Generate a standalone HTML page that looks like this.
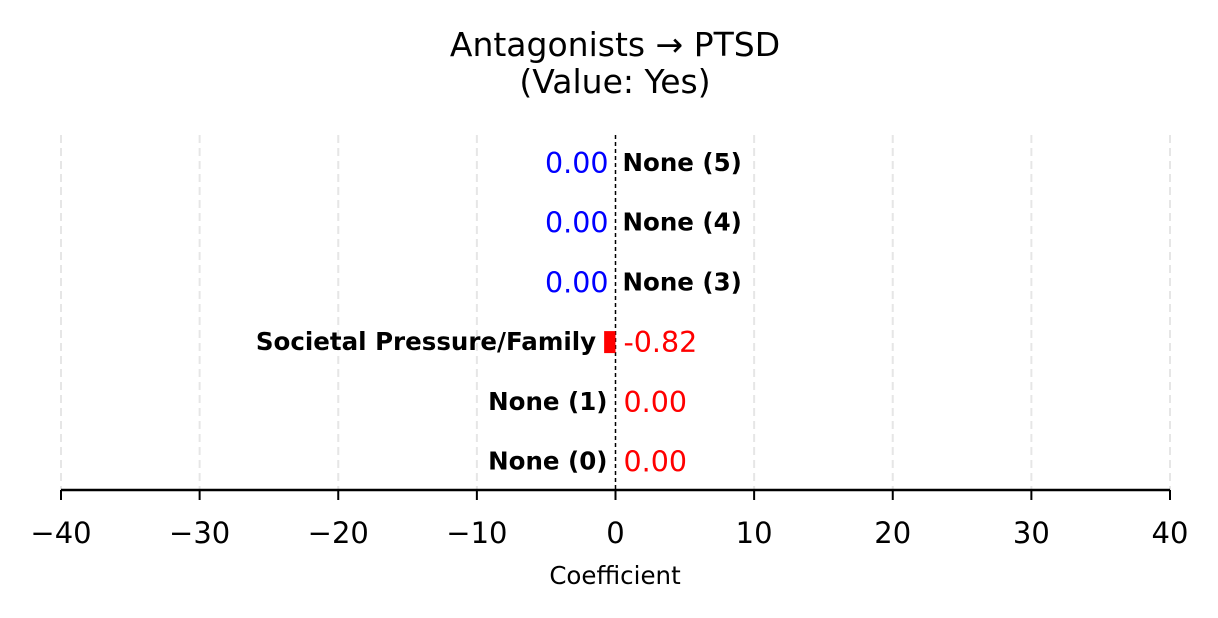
<!DOCTYPE html>
<html><head><meta charset="utf-8"><style>
body{margin:0;background:#fff;}
svg{display:block;font-family:"Liberation Sans","DejaVu Sans",sans-serif;}
</style></head><body>
<svg id="chart" width="1218" height="618" viewBox="0 0 1218 618">
<text x="615" y="56" text-anchor="middle" font-size="33" font-family="DejaVu Sans, sans-serif">Antagonists → PTSD</text>
<text x="615" y="93" text-anchor="middle" font-size="33" font-family="DejaVu Sans, sans-serif">(Value: Yes)</text>
<g id="grid"></g><g id="bars"></g><g id="axis"></g><g id="labels"></g>
<text x="615" y="584" text-anchor="middle" font-size="24.5" font-family="DejaVu Sans, sans-serif">Coefficient</text>
</svg>
<script>
const categories=["None (0)","None (1)","Societal Pressure/Family","None (3)","None (4)","None (5)"];
const values=[0,0,-0.82,0,0,0];
const valueSide=["right","right","right","left","left","left"];
const valueColors=["red","red","red","blue","blue","blue"];
const ticks=[-40,-30,-20,-10,0,10,20,30,40];
const ns="http://www.w3.org/2000/svg";
const x0=61,x1=1170,xmin=-40,xmax=40;
const X=v=>x0+(v-xmin)/(xmax-xmin)*(x1-x0);
const Y=i=>461.5-i*59.7;
function mk(t,a,p){const e=document.createElementNS(ns,t);for(const k in a)e.setAttribute(k,a[k]);p.appendChild(e);return e;}
const grid=document.getElementById('grid'),bars=document.getElementById('bars'),axis=document.getElementById('axis'),labels=document.getElementById('labels');
ticks.forEach(t=>{
 if(t!==0){const g=mk('line',{x1:X(t),x2:X(t),y1:135,y2:490,stroke:'#e6e6e6','stroke-width':2,'stroke-dasharray':'8,5'},grid);
 
 }
 const tk=mk('line',{x1:X(t),x2:X(t),y1:490,y2:500,stroke:'#000','stroke-width':2},axis);
 
 
 const tl=mk('text',{x:X(t),y:543,'text-anchor':'middle','font-size':29,'font-family':'DejaVu Sans, sans-serif'},axis);
 tl.textContent=(t<0?'\u2212'+(-t):t);
 
 
});
const zl=mk('line',{x1:X(0),x2:X(0),y1:135,y2:490,stroke:'#000','stroke-width':1.5,'stroke-dasharray':'4,3'},grid);


const ax=mk('line',{x1:x0,x2:x1,y1:490,y2:490,stroke:'#000','stroke-width':2.5},axis);


categories.forEach((c,i)=>{
 const v=values[i],y=Y(i);
 const b=mk('rect',{x:Math.min(X(v),X(0)),y:y-11,width:Math.abs(X(v)-X(0)),height:22,fill:'red'},bars);
 
 
 const right=valueSide[i]==='right';
 const nameX=right?Math.min(X(v),X(0))-8:X(0)+7;
 const valX=right?X(0)+8:X(0)-7;
 const n=mk('text',{x:nameX,y:y+8,'text-anchor':right?'end':'start','font-size':24.5,'font-weight':'bold','font-family':'DejaVu Sans, sans-serif'},labels);
 n.textContent=c;
 
 
 const t=mk('text',{x:valX,y:y+10,'text-anchor':right?'start':'end','font-size':28.5,fill:valueColors[i],'font-family':'DejaVu Sans, sans-serif'},labels);
 t.textContent=v.toFixed(2);
 
 
});
</script>
</body></html>
